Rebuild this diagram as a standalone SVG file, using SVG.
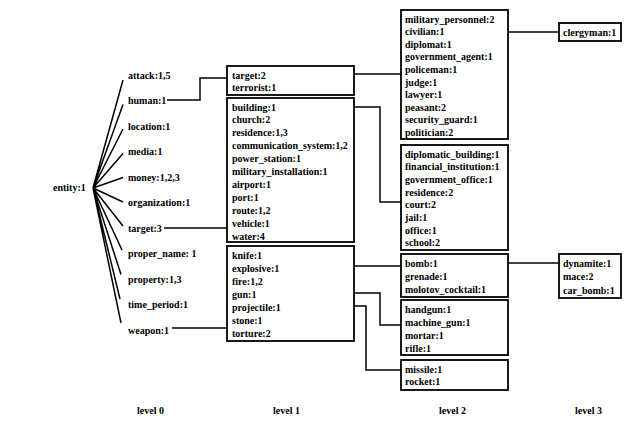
<svg xmlns="http://www.w3.org/2000/svg" width="632" height="430" viewBox="0 0 632 430">
<style>
text{font-family:"Liberation Serif","Times New Roman",serif;font-size:10px;font-weight:bold;fill:#000;dominant-baseline:central}
.box{fill:#fff;stroke:#000;stroke-width:1.8}
.ln{fill:none;stroke:#000;stroke-width:1.5}
</style>
<rect width="632" height="430" fill="#fff"/>
<g id="connectors">
<g class="ln">
<path d="M93,188L123,80M93,188L123,104.5M93,188L123,129M93,188L123,153.5M93,188L123,177.5M93,188L123,202M93,188L123,226M93,188L122,250M93,188L121,274.5M93,188L120,299M93,188L121,323"/>
<path d="M167,100H200V78H227"/>
<path d="M164,228H227"/>
<path d="M172,328H227"/>
<path d="M276,74H401"/>
<path d="M278,107H380V202H401"/>
<path d="M284,266H401"/>
<path d="M259,293H380V325H401"/>
<path d="M284,306H366V370H401"/>
<path d="M444,32H559"/>
<path d="M437,263H559"/>
</g>
</g>
<g id="entity"><text x="53" y="187">entity:1</text></g>
<g id="level0">
<text x="128" y="75">attack:1,5</text>
<text x="128" y="100.5">human:1</text>
<text x="128" y="126">location:1</text>
<text x="128" y="151.5">media:1</text>
<text x="128" y="177">money:1,2,3</text>
<text x="128" y="202.5">organization:1</text>
<text x="128" y="228">target:3</text>
<text x="128" y="253.5">proper_name: 1</text>
<text x="128" y="279">property:1,3</text>
<text x="128" y="304.5">time_period:1</text>
<text x="128" y="330">weapon:1</text>
</g>
<g id="l1-human">
<rect class="box" x="227" y="66" width="127" height="29"/>
<text x="232" y="75">target:2</text>
<text x="232" y="87">terrorist:1</text>
</g>
<g id="l1-target">
<rect class="box" x="227" y="98" width="127" height="144"/>
<text x="232" y="107">building:1</text>
<text x="232" y="119.9">church:2</text>
<text x="232" y="132.8">residence:1,3</text>
<text x="232" y="145.7">communication_system:1,2</text>
<text x="232" y="158.6">power_station:1</text>
<text x="232" y="171.5">military_installation:1</text>
<text x="232" y="184.4">airport:1</text>
<text x="232" y="197.3">port:1</text>
<text x="232" y="210.2">route:1,2</text>
<text x="232" y="223.1">vehicle:1</text>
<text x="232" y="236">water:4</text>
</g>
<g id="l1-weapon">
<rect class="box" x="227" y="246" width="127" height="95"/>
<text x="232" y="255.5">knife:1</text>
<text x="232" y="268.5">explosive:1</text>
<text x="232" y="281.5">fire:1,2</text>
<text x="232" y="294">gun:1</text>
<text x="232" y="307">projectile:1</text>
<text x="232" y="320">stone:1</text>
<text x="232" y="333">torture:2</text>
</g>
<g id="l2-people">
<rect class="box" x="401" y="10" width="107" height="129"/>
<text x="405" y="19">military_personnel:2</text>
<text x="405" y="31.6">civilian:1</text>
<text x="405" y="44.2">diplomat:1</text>
<text x="405" y="56.8">government_agent:1</text>
<text x="405" y="69.4">policeman:1</text>
<text x="405" y="82">judge:1</text>
<text x="405" y="94.6">lawyer:1</text>
<text x="405" y="107.2">peasant:2</text>
<text x="405" y="119.8">security_guard:1</text>
<text x="405" y="132.4">politician:2</text>
</g>
<g id="l2-building">
<rect class="box" x="401" y="145" width="107" height="105"/>
<text x="405" y="154">diplomatic_building:1</text>
<text x="405" y="166.7">financial_institution:1</text>
<text x="405" y="179.4">government_office:1</text>
<text x="405" y="192.1">residence:2</text>
<text x="405" y="204.8">court:2</text>
<text x="405" y="217.5">jail:1</text>
<text x="405" y="230.2">office:1</text>
<text x="405" y="242.9">school:2</text>
</g>
<g id="l2-explosive">
<rect class="box" x="401" y="254" width="107" height="43"/>
<text x="405" y="263.5">bomb:1</text>
<text x="405" y="276">grenade:1</text>
<text x="405" y="289">molotov_cocktail:1</text>
</g>
<g id="l2-gun">
<rect class="box" x="401" y="300" width="107" height="55"/>
<text x="405" y="309.5">handgun:1</text>
<text x="405" y="322.5">machine_gun:1</text>
<text x="405" y="335.5">mortar:1</text>
<text x="405" y="348">rifle:1</text>
</g>
<g id="l2-projectile">
<rect class="box" x="401" y="360" width="107" height="30"/>
<text x="405" y="369">missile:1</text>
<text x="405" y="381.5">rocket:1</text>
</g>
<g id="l3-clergyman">
<rect class="box" x="559" y="23" width="62" height="18"/>
<text x="563" y="32">clergyman:1</text>
</g>
<g id="l3-bomb">
<rect class="box" x="559" y="254" width="62" height="44"/>
<text x="563" y="263">dynamite:1</text>
<text x="563" y="276.5">mace:2</text>
<text x="563" y="290">car_bomb:1</text>
</g>
<g id="levels">
<text x="137" y="410">level 0</text>
<text x="273" y="410">level 1</text>
<text x="439" y="410">level 2</text>
<text x="575" y="410">level 3</text>
</g>
</svg>
